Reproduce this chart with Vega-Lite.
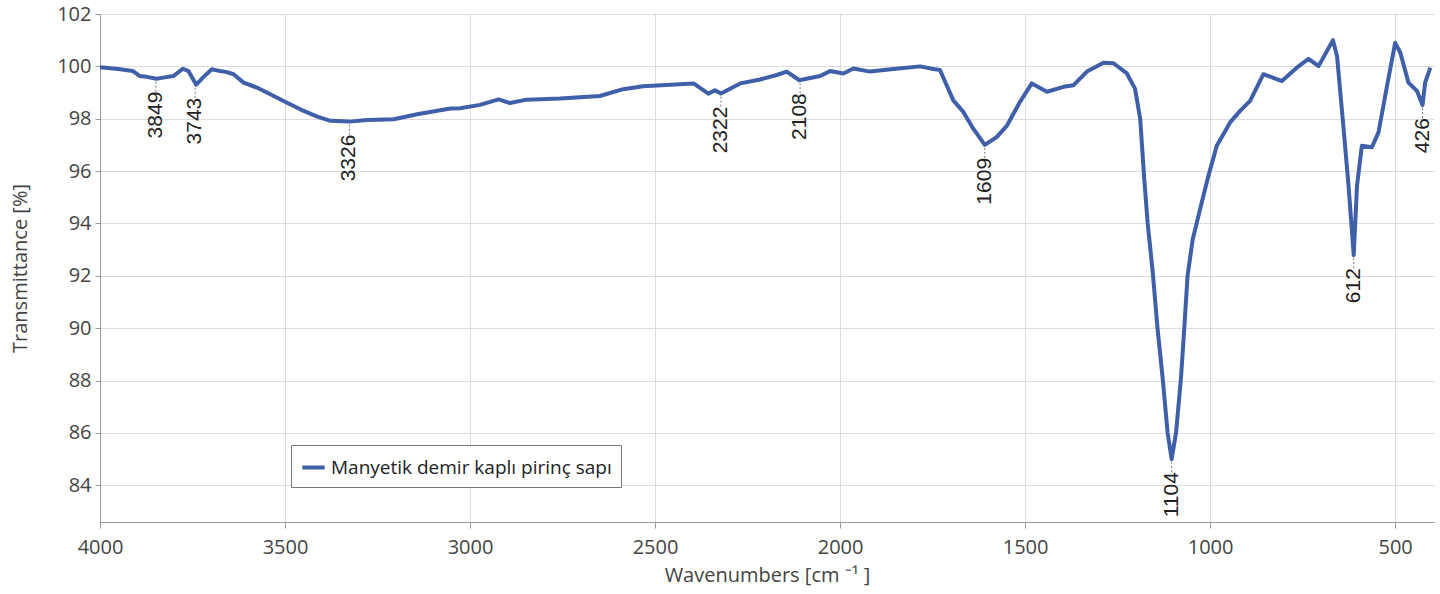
{
  "$schema": "https://vega.github.io/schema/vega-lite/v6.json",
  "width": 1334,
  "height": 508,
  "autosize": {"type": "none"},
  "padding": {"left": 100, "top": 14, "right": 6, "bottom": 72},
  "background": "white",
  "config": {"view": {"stroke": null}, "font": "Open Sans"},
  "datasets": {
    "spectrum": [
      {"w": 4000, "t": 99.97}, {"w": 3951, "t": 99.9}, {"w": 3911, "t": 99.82}, {"w": 3892, "t": 99.63},
      {"w": 3874, "t": 99.6}, {"w": 3847, "t": 99.53}, {"w": 3825, "t": 99.58}, {"w": 3802, "t": 99.63},
      {"w": 3776, "t": 99.91}, {"w": 3761, "t": 99.82}, {"w": 3740, "t": 99.3}, {"w": 3720, "t": 99.6},
      {"w": 3698, "t": 99.89}, {"w": 3675, "t": 99.82}, {"w": 3657, "t": 99.78}, {"w": 3639, "t": 99.7},
      {"w": 3612, "t": 99.38}, {"w": 3576, "t": 99.19}, {"w": 3549, "t": 99.0}, {"w": 3504, "t": 98.68},
      {"w": 3459, "t": 98.36}, {"w": 3413, "t": 98.08}, {"w": 3377, "t": 97.92}, {"w": 3326, "t": 97.89},
      {"w": 3278, "t": 97.95}, {"w": 3206, "t": 97.98}, {"w": 3143, "t": 98.17}, {"w": 3053, "t": 98.39},
      {"w": 3027, "t": 98.4}, {"w": 2973, "t": 98.53}, {"w": 2923, "t": 98.74}, {"w": 2892, "t": 98.6},
      {"w": 2847, "t": 98.73}, {"w": 2757, "t": 98.77}, {"w": 2649, "t": 98.87}, {"w": 2586, "t": 99.13},
      {"w": 2532, "t": 99.24}, {"w": 2396, "t": 99.35}, {"w": 2356, "t": 98.96}, {"w": 2338, "t": 99.09},
      {"w": 2322, "t": 98.96}, {"w": 2270, "t": 99.35}, {"w": 2216, "t": 99.5}, {"w": 2171, "t": 99.67},
      {"w": 2144, "t": 99.8}, {"w": 2110, "t": 99.47}, {"w": 2054, "t": 99.63}, {"w": 2027, "t": 99.82},
      {"w": 1991, "t": 99.73}, {"w": 1964, "t": 99.92}, {"w": 1919, "t": 99.8}, {"w": 1856, "t": 99.9},
      {"w": 1784, "t": 100.0}, {"w": 1748, "t": 99.9}, {"w": 1730, "t": 99.86}, {"w": 1712, "t": 99.28},
      {"w": 1694, "t": 98.7}, {"w": 1667, "t": 98.26}, {"w": 1640, "t": 97.62}, {"w": 1609, "t": 97.0},
      {"w": 1577, "t": 97.3}, {"w": 1549, "t": 97.74}, {"w": 1514, "t": 98.64}, {"w": 1482, "t": 99.35},
      {"w": 1441, "t": 99.03}, {"w": 1396, "t": 99.22}, {"w": 1369, "t": 99.28}, {"w": 1333, "t": 99.8},
      {"w": 1288, "t": 100.14}, {"w": 1261, "t": 100.12}, {"w": 1225, "t": 99.73}, {"w": 1203, "t": 99.15},
      {"w": 1189, "t": 98.0}, {"w": 1178, "t": 95.7}, {"w": 1169, "t": 94.04}, {"w": 1155, "t": 92.13},
      {"w": 1142, "t": 89.97}, {"w": 1128, "t": 88.06}, {"w": 1115, "t": 86.02}, {"w": 1104, "t": 85.0},
      {"w": 1092, "t": 86.02}, {"w": 1079, "t": 88.06}, {"w": 1070, "t": 89.97}, {"w": 1061, "t": 92.0},
      {"w": 1047, "t": 93.4}, {"w": 1025, "t": 94.67}, {"w": 1005, "t": 95.8}, {"w": 982, "t": 96.97},
      {"w": 946, "t": 97.86}, {"w": 919, "t": 98.3}, {"w": 892, "t": 98.68}, {"w": 856, "t": 99.7},
      {"w": 806, "t": 99.44}, {"w": 766, "t": 99.95}, {"w": 734, "t": 100.29}, {"w": 707, "t": 100.01},
      {"w": 668, "t": 101.0}, {"w": 657, "t": 100.39}, {"w": 640, "t": 97.73}, {"w": 626, "t": 95.45},
      {"w": 612, "t": 92.79}, {"w": 603, "t": 95.45}, {"w": 590, "t": 96.97}, {"w": 563, "t": 96.91},
      {"w": 545, "t": 97.48}, {"w": 522, "t": 99.25}, {"w": 500, "t": 100.9}, {"w": 486, "t": 100.52},
      {"w": 464, "t": 99.38}, {"w": 441, "t": 99.06}, {"w": 426, "t": 98.52}, {"w": 419, "t": 99.38},
      {"w": 405, "t": 99.95}
    ],
    "peaks": [
      {"w": 3849, "t": 99.53, "label": "3849"},
      {"w": 3743, "t": 99.3, "label": "3743"},
      {"w": 3326, "t": 97.89, "label": "3326"},
      {"w": 2322, "t": 98.96, "label": "2322"},
      {"w": 2108, "t": 99.47, "label": "2108"},
      {"w": 1609, "t": 97.0, "label": "1609"},
      {"w": 1104, "t": 85.0, "label": "1104"},
      {"w": 612, "t": 92.79, "label": "612"},
      {"w": 426, "t": 98.52, "label": "426"}
    ]
  },
  "encoding": {
    "x": {
      "field": "w",
      "type": "quantitative",
      "scale": {"domain": [395, 4000], "reverse": true, "nice": false, "zero": false},
      "axis": {
        "values": [4000, 3500, 3000, 2500, 2000, 1500, 1000, 500],
        "format": "d",
        "title": "Wavenumbers [cm  ⁻¹ ]",
        "grid": true,
        "gridColor": "#dcdcdc",
        "domainColor": "#999999",
        "tickColor": "#999999",
        "tickSize": 6,
        "labelFontSize": 20,
        "labelColor": "#444444",
        "labelPadding": 9,
        "labelFlush": false,
        "titleFontSize": 20,
        "titleFontWeight": "normal",
        "titleColor": "#444444",
        "titlePadding": 8
      }
    },
    "y": {
      "field": "t",
      "type": "quantitative",
      "scale": {"domain": [82.6, 102], "nice": false, "zero": false},
      "axis": {
        "values": [84, 86, 88, 90, 92, 94, 96, 98, 100, 102],
        "title": "Transmittance [%]",
        "grid": true,
        "gridColor": "#dcdcdc",
        "domainColor": "#999999",
        "tickColor": "#999999",
        "tickSize": 5,
        "labelFontSize": 20,
        "labelColor": "#444444",
        "labelPadding": 4,
        "labelFlush": false,
        "titleFontSize": 20,
        "titleFontWeight": "normal",
        "titleColor": "#444444",
        "titlePadding": 26
      }
    }
  },
  "layer": [
    {
      "data": {"name": "spectrum"},
      "mark": {"type": "line", "strokeWidth": 4, "strokeJoin": "round"},
      "encoding": {
        "color": {
          "datum": "Manyetik demir kaplı pirinç sapı",
          "scale": {"range": ["#3f5fa8"]},
          "legend": {
            "orient": "none",
            "legendX": 191,
            "legendY": 431,
            "title": null,
            "fillColor": "white",
            "strokeColor": "#777777",
            "padding": 9,
            "symbolType": "stroke",
            "symbolStrokeWidth": 4,
            "symbolSize": 500,
            "labelFontSize": 19,
            "labelColor": "#222222",
            "labelLimit": 500
          }
        }
      }
    },
    {
      "data": {"name": "peaks"},
      "mark": {"type": "rule", "strokeDash": [2, 2], "color": "#777777", "strokeWidth": 1, "yOffset": 3, "y2Offset": 13},
      "encoding": {"y2": {"field": "t"}}
    },
    {
      "data": {"name": "peaks"},
      "mark": {"type": "text", "angle": 270, "align": "right", "baseline": "middle", "dx": -13, "fontSize": 21, "font": "Liberation Sans", "color": "#222222"},
      "encoding": {"text": {"field": "label"}}
    }
  ]
}
